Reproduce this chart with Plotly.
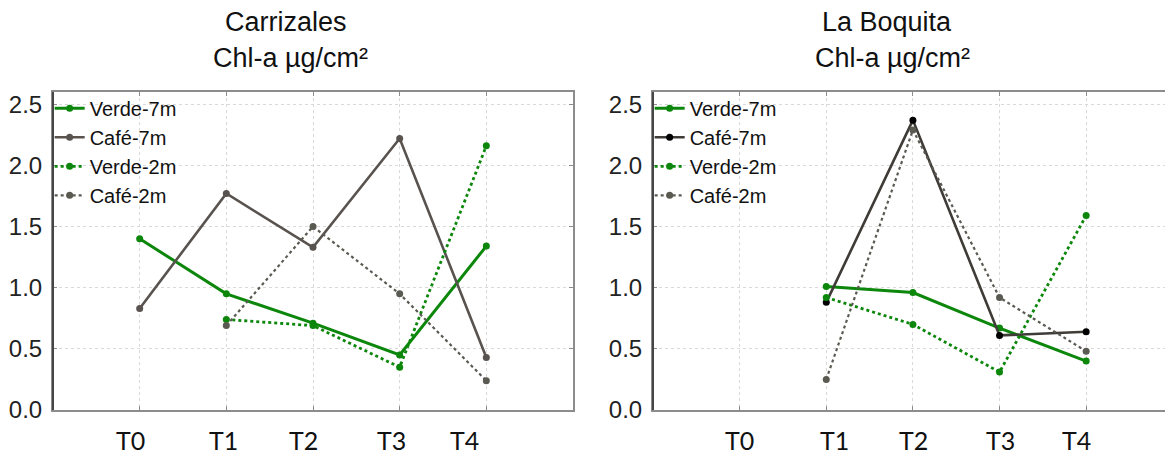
import plotly.graph_objects as go

# Sampling times
times = ["T0", "T1", "T2", "T3", "T4"]

# Chlorophyll-a (µg/cm²) — Carrizales
carr_verde_7m = [1.40, 0.95, 0.71, 0.45, 1.34]
carr_cafe_7m = [0.83, 1.77, 1.33, 2.22, 0.43]
carr_verde_2m = [None, 0.74, 0.69, 0.35, 2.16]
carr_cafe_2m = [None, 0.69, 1.50, 0.95, 0.24]

# Chlorophyll-a (µg/cm²) — La Boquita
boq_verde_7m = [None, 1.01, 0.96, 0.67, 0.40]
boq_cafe_7m = [None, 0.88, 2.37, 0.61, 0.64]
boq_verde_2m = [None, 0.92, 0.70, 0.31, 1.59]
boq_cafe_2m = [None, 0.25, 2.29, 0.92, 0.48]

series_names = ["Verde-7m", "Café-7m", "Verde-2m", "Café-2m"]
sites = ["Carrizales", "La Boquita"]

GREEN = "#0c870c"
CAFE = "#59534f"
CAFE_DARK = "#3f3b37"
CAFE_DOT = "#5a5a52"

W, H = 1165, 458
ML, MR, MT, MB = 53, 0, 92, 48
PW = W - ML - MR
PH = H - MT - MB

left_dom = [0.0, 520 / PW]
right_dom = [(653 - ML) / PW, 1.0]

fig = go.Figure()


def add_site(vals, xa, ya, legend, cafe7_line, cafe7_marker):
    v7, c7, v2, c2 = vals
    styles = [
        dict(y=v7, line=dict(color=GREEN, width=3), marker=dict(color=GREEN, size=7)),
        dict(y=c7, line=dict(color=cafe7_line, width=2.6), marker=dict(color=cafe7_marker, size=7)),
        dict(y=v2, line=dict(color=GREEN, width=2.8, dash="dot"), marker=dict(color=GREEN, size=7)),
        dict(y=c2, line=dict(color=CAFE_DOT, width=2.2, dash="dot"), marker=dict(color=CAFE_DOT, size=7)),
    ]
    for name, st in zip(series_names, styles):
        fig.add_trace(go.Scatter(
            x=times, y=st["y"], name=name, mode="lines+markers",
            line=st["line"], marker=st["marker"], connectgaps=False,
            xaxis=xa, yaxis=ya, legend=legend,
        ))


add_site([carr_verde_7m, carr_cafe_7m, carr_verde_2m, carr_cafe_2m], "x", "y", "legend", CAFE, CAFE)
add_site([boq_verde_7m, boq_cafe_7m, boq_verde_2m, boq_cafe_2m], "x2", "y2", "legend2", CAFE_DARK, "#000000")

tick_font = dict(family="Liberation Sans, Arial, sans-serif", size=24, color="#222222")
xcommon = dict(
    type="category", showticklabels=False, showgrid=True, gridcolor="#d9d9d9", griddash="dot",
    gridwidth=1, showline=True, linecolor="#8c8c8c", linewidth=2, mirror="ticks",
    ticks="inside", ticklen=4, tickcolor="#8c8c8c", zeroline=False,
)
ycommon = dict(
    range=[0, 2.6], tickvals=[0, 0.5, 1.0, 1.5, 2.0, 2.5], tickformat=".1f",
    showgrid=True, gridcolor="#d9d9d9", griddash="dot", gridwidth=1,
    showline=True, linecolor="#8c8c8c", linewidth=2, ticks="inside", ticklen=4,
    tickcolor="#8c8c8c", tickfont=tick_font, zeroline=False, ticklabelstandoff=4,
)

legend_common = dict(y=1.01, xanchor="left", yanchor="top", bgcolor="rgba(0,0,0,0)",
                     font=dict(size=20, color="#111111"), tracegroupgap=0, itemwidth=30)

fig.update_layout(
    width=W, height=H,
    margin=dict(l=ML, r=MR, t=MT, b=MB),
    paper_bgcolor="white", plot_bgcolor="white",
    font=dict(family="Liberation Sans, Arial, sans-serif", color="#111111"),
    xaxis=dict(domain=left_dom, range=[-1, 5], anchor="y", **xcommon),
    yaxis=dict(domain=[0, 1], anchor="x", mirror="ticks", **ycommon),
    xaxis2=dict(domain=right_dom, range=[-1, 4.91], anchor="y2", **xcommon),
    yaxis2=dict(domain=[0, 1], anchor="x2", mirror=False, **ycommon),
    legend=dict(x=left_dom[0] - 0.003, **legend_common),
    legend2=dict(x=right_dom[0] - 0.003, **legend_common),
    showlegend=True,
)

# Darker left spines
for xd in ("x domain", "x2 domain"):
    fig.add_shape(type="line", xref=xd, yref="paper", x0=0, x1=0, y0=0, y1=1,
                  line=dict(color="#454545", width=2), layer="above")

# Site titles
title_font = dict(family="Liberation Sans, Arial, sans-serif", size=27, color="#111111")
title_pos = [(286, 290), (887, 892)]
for site, (x1, x2) in zip(sites, title_pos):
    fig.add_annotation(text=site, xref="paper", yref="paper",
                       x=(x1 - ML) / PW, y=1 + (MT - 22) / PH,
                       xanchor="center", yanchor="middle", showarrow=False, font=title_font)
    fig.add_annotation(text="Chl-a µg/cm²", xref="paper", yref="paper",
                       x=(x2 - ML) / PW, y=1 + (MT - 58) / PH,
                       xanchor="center", yanchor="middle", showarrow=False, font=title_font)

# Time labels beneath each panel
label_font = dict(family="Liberation Sans Narrow, Lato, sans-serif", size=25, color="#111111")
label_shift = {"x": [-9, -3, -10, -8, -22], "x2": [0, 8, 1, 1, -10]}
for xa, shifts in label_shift.items():
    for t, s in zip(times, shifts):
        fig.add_annotation(text=t, xref=xa, yref="paper", x=t, y=-(440 - (H - MB)) / PH,
                           xshift=s, xanchor="center", yanchor="middle",
                           showarrow=False, font=label_font)

fig.write_html("out.html")
